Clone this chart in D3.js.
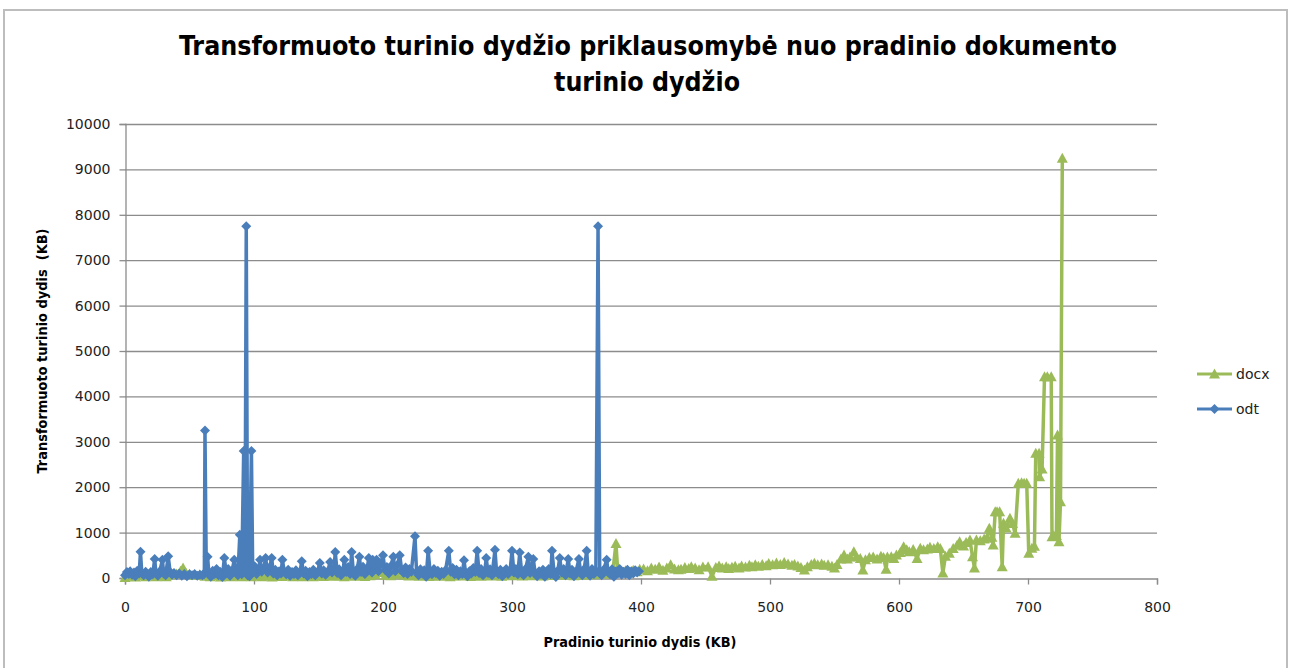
<!DOCTYPE html>
<html>
<head>
<meta charset="utf-8">
<script src="https://cdn.jsdelivr.net/npm/d3@7"></script>
<style>
  body { margin: 0; background: #fff; }
  svg { display: block; }
</style>
</head>
<body>
<svg id="chart" width="1293" height="668"></svg>
<script>
// odt series: source size (KB) vs transformed size (KB)
const odtX = [0, 1.5, 3, 4, 5.5, 7, 8, 9.5, 11, 12, 13, 14.5, 16, 17, 18.5, 20, 21.5, 23, 24, 25.5, 27, 29, 30, 31.5, 33.5, 35, 36.5, 38, 40, 42, 44, 46, 48, 50, 52, 54, 56, 58, 60, 61.5, 62, 63, 64, 65, 66.5, 68, 69.5, 71, 72.5, 74, 75.5, 77, 78.5, 80, 81.5, 83, 84.7, 86, 87.5, 89, 90.5, 92, 93, 94, 95, 96.5, 98, 99, 100.5, 102, 103.5, 104.7, 106, 107.5, 109, 110.5, 112, 113.7, 115, 116.5, 118, 119.5, 121, 122, 123.5, 125, 126.5, 128, 129.5, 131, 132.5, 134, 135.5, 137, 138.5, 140, 141.5, 143, 144.5, 146, 147.5, 149, 151, 152.5, 154, 155.5, 157, 159, 160.5, 162, 163, 164.5, 166, 167.5, 169, 170, 171.5, 173, 174.5, 175.7, 177, 178.5, 180, 181.7, 183, 184.5, 186, 187.5, 189, 190, 191.5, 192, 193.5, 195, 196.5, 198, 200, 201.5, 203, 204.5, 206, 208, 209.5, 211, 213, 214.5, 216, 217.5, 219, 220.5, 222, 224.8, 226, 227.5, 229, 230.5, 232, 233.5, 235, 236.5, 238, 239.5, 241, 242.5, 244, 245.5, 247, 248.5, 251, 252.5, 254, 255.5, 257, 258.5, 260, 261.5, 262.8, 264, 265.5, 267, 268.5, 270, 271.5, 273, 274.5, 276, 277.5, 279, 280, 281.5, 283, 284.5, 286.8, 288, 289.5, 291, 292.5, 294, 295.5, 297, 298.5, 300, 301.5, 303, 304.5, 306, 307.5, 309, 310.5, 312.7, 314, 315, 316.5, 318, 319.5, 321, 322.5, 324, 325.5, 327, 328.5, 330, 331, 332.5, 334, 335.5, 337, 338.5, 340, 341.5, 343.6, 345, 346.5, 348, 349.5, 351.9, 353, 354.5, 356, 357.9, 359, 360.5, 362, 363.5, 365, 366.7, 368, 369.5, 371, 373.4, 374.5, 376, 377.5, 379, 380.5, 382, 383.5, 385, 386.5, 388, 389.5, 391, 392.5, 394, 395.5, 397, 398.5]
const odtY = [60, 130, 90, 150, 70, 120, 40, 160, 100, 580, 120, 60, 140, 90, 30, 130, 80, 420, 110, 50, 150, 400, 100, 60, 480, 130, 70, 110, 60, 100, 50, 90, 40, 80, 60, 90, 50, 70, 60, 90, 3250, 150, 470, 120, 30, 160, 90, 200, 60, 130, 20, 440, 110, 200, 50, 160, 400, 120, 60, 950, 80, 2800, 150, 7750, 60, 40, 2800, 150, 260, 90, 170, 400, 140, 220, 440, 120, 230, 440, 100, 180, 60, 150, 100, 400, 140, 80, 180, 50, 130, 90, 170, 60, 110, 370, 100, 160, 40, 130, 90, 180, 60, 120, 330, 100, 170, 70, 140, 350, 120, 200, 570, 110, 190, 60, 150, 400, 130, 240, 90, 570, 150, 50, 200, 470, 130, 250, 90, 180, 440, 200, 120, 400, 200, 400, 150, 300, 500, 180, 240, 100, 260, 470, 150, 280, 500, 170, 110, 230, 90, 200, 140, 920, 130, 60, 190, 100, 170, 30, 600, 140, 80, 200, 110, 160, 50, 140, 90, 170, 600, 140, 220, 80, 180, 60, 150, 90, 390, 120, 40, 150, 100, 220, 130, 600, 110, 200, 60, 160, 440, 110, 190, 60, 620, 150, 90, 180, 40, 130, 200, 90, 150, 600, 120, 200, 80, 560, 130, 60, 200, 470, 110, 200, 420, 100, 40, 150, 90, 180, 30, 120, 200, 80, 600, 150, 20, 160, 440, 120, 200, 60, 420, 100, 180, 40, 130, 420, 160, 60, 200, 600, 140, 50, 200, 90, 160, 7750, 110, 60, 180, 400, 130, 80, 190, 30, 150, 100, 200, 70, 140, 90, 180, 60, 150, 100, 170, 120, 150]

// docx series
const docxX = [0, 4, 8, 12, 16, 20, 24, 28, 32, 36, 40, 43, 45, 47, 50, 54, 58, 62, 66, 70, 74, 78, 82, 86, 90, 94, 98, 102, 106, 110, 114, 118, 122, 126, 130, 134, 138, 142, 146, 150, 154, 158, 162, 166, 170, 174, 178, 182, 186, 190, 194, 198, 200, 202, 206, 210, 214, 216, 220, 224, 228, 232, 236, 240, 244, 248, 252, 256, 260, 264, 268, 272, 276, 280, 284, 288, 292, 296, 300, 304, 308, 312, 316, 320, 324, 328, 332, 336, 340, 344, 348, 352, 356, 360, 364, 368, 372, 376, 378, 380.6, 382, 385, 388, 391, 394, 397, 399, 402, 405, 408, 411, 414, 417, 420, 423, 426, 429, 431, 434, 437, 439, 442, 445, 448, 452, 455, 458, 460.5, 463, 466, 468, 470.5, 473, 476, 478, 481, 484, 486, 488.6, 491, 494, 497, 499, 502, 505, 508, 511, 514, 517, 519, 521.6, 524, 526.7, 529, 532, 534.4, 537, 540, 542, 545, 548, 550, 552, 555, 557.4, 560, 562, 565, 567, 570, 572, 574, 577, 580, 583, 586, 588, 590, 591, 594, 596, 598, 601, 603.6, 606, 608, 611, 614, 616.5, 619, 622, 624, 627, 630, 632, 634, 636, 639, 642, 645, 647, 650, 652, 655, 657, 658.5, 660, 663, 666, 668, 670, 672, 673, 674.6, 676, 678, 680, 681, 683, 686, 688, 690, 692.5, 695, 697, 699, 700.6, 703, 705, 706, 708.6, 709, 710.9, 712.8, 715, 718, 718.6, 720, 722, 722.9, 724, 725.2, 726.6]
const docxY = [10, 40, 20, 50, 30, 60, 25, 45, 30, 70, 90, 150, 220, 120, 80, 60, 70, 40, 30, 50, 20, 40, 30, 50, 25, 40, 30, 45, 30, 50, 20, 40, 35, 55, 30, 40, 25, 50, 30, 45, 35, 60, 40, 50, 30, 55, 40, 60, 35, 50, 70, 120, 140, 60, 50, 80, 150, 60, 45, 60, 40, 55, 35, 50, 40, 60, 30, 50, 45, 60, 35, 55, 40, 65, 45, 60, 40, 70, 50, 60, 45, 80, 50, 70, 45, 60, 55, 80, 60, 75, 50, 90, 60, 80, 70, 100, 80, 120, 100, 760, 140, 110, 160, 120, 170, 140, 190, 200, 160, 220, 190, 240, 170, 220, 290, 200, 180, 190, 230, 210, 250, 220, 180, 240, 250, 40, 230, 265, 220, 250, 210, 235, 260, 220, 265, 240, 280, 250, 290, 260, 300, 270, 320, 290, 330, 300, 340, 310, 280, 300, 265, 230, 175, 250, 300, 325, 290, 310, 280, 290, 260, 220, 300, 420, 505, 420, 460, 580, 470, 430, 175, 400, 450, 460, 420, 480, 450, 190, 460, 470, 430, 505, 560, 690, 620, 580, 630, 430, 655, 620, 640, 675, 650, 690, 650, 110, 480, 545, 650, 720, 800, 705, 780, 837, 470, 220, 837, 820, 860, 875, 1094, 900, 727, 1460, 1460, 1460, 250, 1204, 1100, 1314, 1200, 985, 2085, 2100, 2085, 2085, 543, 653, 700, 2746, 2746, 2231, 2400, 4434, 4434, 4434, 910, 930, 935, 3150, 800, 1680, 9245]

const yTicks = [0, 1000, 2000, 3000, 4000, 5000, 6000, 7000, 8000, 9000, 10000]
const xTicks = [0, 100, 200, 300, 400, 500, 600, 700, 800]
const seriesNames = ["docx", "odt"]

const BLUE = "#4a7ebb", GREEN = "#9bbb59", GRID = "#8c8c8c"
const TICK_FONT = "'DejaVu Sans', Verdana, sans-serif"
const BOLD_FONT = "'DejaVu Sans Condensed', 'DejaVu Sans', sans-serif"

const svg = d3.select("#chart")
const plot = { left: 125, right: 1157, top: 124, bottom: 578 }

const x = d3.scaleLinear().domain([0, 800]).range([plot.left, plot.right])
const y = d3.scaleLinear().domain([0, 10000]).range([plot.bottom, plot.top])

// outer chart frame
svg.append("rect")
    .attr("x", 4).attr("y", 10)
    .attr("width", 1283).attr("height", 670)
    .attr("fill", "#fff")
    .attr("stroke", "#bdbdbd")
    .attr("stroke-width", 2)

// title
const title = svg.append("g")
    .attr("font-family", BOLD_FONT)
    .attr("font-weight", "bold")
    .attr("font-size", 27)
    .attr("fill", "#000")
    .attr("text-anchor", "middle")
title.append("text")
    .attr("x", 648).attr("y", 55)
    .attr("textLength", 938).attr("lengthAdjust", "spacingAndGlyphs")
    .text("Transformuoto turinio dydžio priklausomybė nuo pradinio dokumento")
title.append("text")
    .attr("x", 647).attr("y", 91)
    .attr("textLength", 186).attr("lengthAdjust", "spacingAndGlyphs")
    .text("turinio dydžio")

// horizontal gridlines
svg.append("g")
    .selectAll("line")
    .data(yTicks.filter(d => d > 0))
    .join("line")
    .attr("x1", plot.left).attr("x2", plot.right)
    .attr("y1", d => y(d) + 0.5).attr("y2", d => y(d) + 0.5)
    .attr("stroke", GRID)
    .attr("stroke-width", 1.3)

// axes
const yAxis = d3.axisLeft(y).tickValues(yTicks).tickSize(6).tickPadding(9).tickFormat(d => d)
const xAxis = d3.axisBottom(x).tickValues(xTicks).tickSize(6).tickPadding(18).tickFormat(d => d)

const gy = svg.append("g")
    .attr("transform", "translate(" + (plot.left + 0.5) + ",0)")
    .call(yAxis)
const gx = svg.append("g")
    .attr("transform", "translate(0," + (plot.bottom + 0.5) + ")")
    .call(xAxis)

for (const g of [gx, gy]) {
    g.select(".domain").attr("stroke", GRID).attr("stroke-width", 1.3)
    g.selectAll(".tick line").attr("stroke", GRID).attr("stroke-width", 1.3)
    g.selectAll(".tick text")
        .attr("font-family", TICK_FONT)
        .attr("font-size", 14)
        .attr("fill", "#222")
}

// axis titles
svg.append("text")
    .attr("x", 640).attr("y", 647)
    .attr("text-anchor", "middle")
    .attr("font-family", BOLD_FONT)
    .attr("font-weight", "bold")
    .attr("font-size", 14)
    .attr("textLength", 193).attr("lengthAdjust", "spacingAndGlyphs")
    .text("Pradinio turinio dydis (KB)")

svg.append("text")
    .attr("transform", "translate(47,351) rotate(-90)")
    .attr("text-anchor", "middle")
    .attr("font-family", BOLD_FONT)
    .attr("font-weight", "bold")
    .attr("font-size", 14)
    .attr("textLength", 245).attr("lengthAdjust", "spacingAndGlyphs")
    .attr("xml:space", "preserve")
    .text("Transformuoto turinio dydis  (KB)")

// marker shapes
const diamond = "M0,-5L5,0L0,5L-5,0Z"
const triangle = "M0,-5.5L5.5,4.5L-5.5,4.5Z"

const line = d3.line()
    .x(d => x(d[0]))
    .y(d => y(d[1]))

function drawSeries(xs, ys, color, marker) {
    const pts = xs.map((v, i) => [v, ys[i]])
    const g = svg.append("g")
    g.append("path")
        .attr("d", line(pts))
        .attr("fill", "none")
        .attr("stroke", color)
        .attr("stroke-width", 3.5)
        .attr("stroke-linejoin", "round")
    g.selectAll("path.m")
        .data(pts)
        .join("path")
        .attr("class", "m")
        .attr("d", marker)
        .attr("transform", d => "translate(" + x(d[0]) + "," + y(d[1]) + ")")
        .attr("fill", color)
}

drawSeries(docxX, docxY, GREEN, triangle)
drawSeries(odtX, odtY, BLUE, diamond)

// legend
const legend = svg.append("g")
const legendItems = [
    { name: seriesNames[0], color: GREEN, marker: triangle, y: 374 },
    { name: seriesNames[1], color: BLUE, marker: diamond, y: 409 }
]
legendItems.forEach(item => {
    legend.append("line")
        .attr("x1", 1197).attr("x2", 1232)
        .attr("y1", item.y).attr("y2", item.y)
        .attr("stroke", item.color)
        .attr("stroke-width", 3)
    legend.append("path")
        .attr("d", item.marker)
        .attr("transform", "translate(1214.5," + item.y + ")")
        .attr("fill", item.color)
    legend.append("text")
        .attr("x", 1236).attr("y", item.y + 5)
        .attr("font-family", TICK_FONT)
        .attr("font-size", 14)
        .attr("fill", "#222")
        .text(item.name)
})
</script>
</body>
</html>
